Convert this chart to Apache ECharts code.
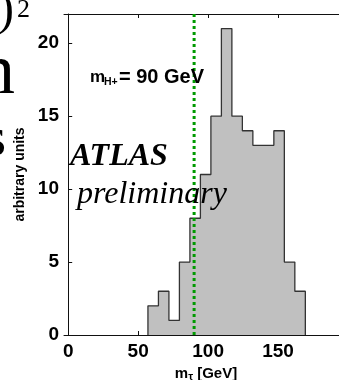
<!DOCTYPE html>
<html><head><meta charset="utf-8">
<script src="https://cdn.jsdelivr.net/npm/echarts@6/dist/echarts.min.js"></script>
<style>html,body{margin:0;padding:0;background:#fff}#c{width:339px;height:380px}</style>
</head><body><div id="c"></div>
<script>
const binEdges = [57, 64.5, 72, 79.5, 87, 94.5, 102, 109.5, 117, 124.5, 132, 139.5, 147, 154.5, 162, 169.5];
const binCounts = [2, 3, 1, 5, 8, 11, 15, 21, 15, 14, 13, 13, 14, 5, 3];
const xTicks = [0, 50, 100, 150];
const yTicks = [0, 5, 10, 15, 20];
const markerMass = 90;

const stepPts = [[binEdges[0], 0]];
binCounts.forEach((c, i) => stepPts.push([binEdges[i], c]));
stepPts.push([binEdges[binEdges.length - 1], 0]);

const sans = 'Liberation Sans, Arial, sans-serif';
const serif = 'Liberation Serif, Times New Roman, serif';
const chart = echarts.init(document.getElementById('c'), null, {renderer: 'canvas'});
const axisCommon = {
  type: 'value', min: -3, max: 200,
  axisLine: {show: true, lineStyle: {color: '#111', width: 1}},
  axisTick: {show: true, inside: true, length: 4, customValues: xTicks, lineStyle: {color: '#111'}},
  splitLine: {show: false}
};
chart.setOption({
  animation: false,
  backgroundColor: '#fff',
  grid: {left: 64, right: -9, top: 14, bottom: 45, containLabel: false, outerBoundsMode: 'none'},
  xAxis: [
    Object.assign({}, axisCommon, {
      position: 'bottom',
      axisLabel: {customValues: xTicks, fontSize: 19, fontWeight: 'bold', color: '#000', fontFamily: sans, margin: 7},
      name: '{a|m}{b|τ}{a| [GeV]}',
      nameLocation: 'middle', nameGap: 27,
      nameTextStyle: {
        rich: {
          a: {fontSize: 15, fontWeight: 'bold', fontFamily: sans, color: '#000', lineHeight: 18, verticalAlign: 'middle'},
          b: {fontSize: 11, fontWeight: 'bold', fontFamily: sans, color: '#000', lineHeight: 10, verticalAlign: 'bottom'}
        }
      }
    }),
    Object.assign({}, axisCommon, {position: 'top', axisLabel: {show: false}})
  ],
  yAxis: {
    type: 'value', min: 0, max: 22,
    axisLine: {show: true, lineStyle: {color: '#111', width: 1}},
    axisTick: {show: true, inside: true, length: 4, customValues: yTicks, lineStyle: {color: '#111'}},
    axisLabel: {customValues: yTicks, fontSize: 19, fontWeight: 'bold', color: '#000', fontFamily: sans, margin: 5},
    splitLine: {show: false},
    name: 'arbitrary units', nameLocation: 'middle', nameGap: 31,
    nameTextStyle: {fontSize: 14, fontWeight: 'bold', color: '#000', fontFamily: sans}
  },
  series: [
    {
      type: 'line', step: 'end', data: stepPts, symbol: 'none', z: 2,
      lineStyle: {color: '#333', width: 1.3},
      areaStyle: {color: '#c0c0c0', opacity: 1}
    },
    {
      type: 'line', data: [[markerMass, 0], [markerMass, 22]], symbol: 'none', z: 3,
      lineStyle: {color: '#009a00', width: 3, type: [3, 3]}
    }
  ],
  graphic: [
    {type: 'text', z: 10, style: {text: 'P)', x: 14, y: 11.7, align: 'right', verticalAlign: 'middle', font: '48px ' + serif, fill: '#000'}},
    {type: 'text', z: 10, style: {text: '2', x: 17, y: 10, align: 'left', verticalAlign: 'middle', font: '26px ' + serif, fill: '#000'}},
    {type: 'text', z: 10, style: {text: 'n', x: 15, y: 74, align: 'right', verticalAlign: 'middle', font: '72px ' + serif, fill: '#000'}},
    {type: 'text', z: 10, style: {text: 's', x: 6, y: 141, align: 'right', verticalAlign: 'middle', font: '54px ' + serif, fill: '#000'}},
    {type: 'text', z: 10, style: {text: 'm', x: 90, y: 77, align: 'left', verticalAlign: 'middle', font: 'bold 17px ' + sans, fill: '#000'}},
    {type: 'text', z: 10, style: {text: 'H+', x: 104, y: 82.4, align: 'left', verticalAlign: 'middle', font: 'bold 10.5px ' + sans, fill: '#000'}},
    {type: 'text', z: 10, style: {text: '= 90 GeV', x: 119, y: 77, align: 'left', verticalAlign: 'middle', font: 'bold 20px ' + sans, fill: '#000'}},
    {type: 'text', z: 10, style: {text: 'ATLAS', x: 70, y: 157, align: 'left', verticalAlign: 'middle', font: 'italic bold 32px ' + serif, fill: '#000'}},
    {type: 'text', z: 10, style: {text: 'preliminary', x: 77, y: 195, align: 'left', verticalAlign: 'middle', font: 'italic 32px ' + serif, fill: '#000'}}
  ]
});
</script></body></html>
